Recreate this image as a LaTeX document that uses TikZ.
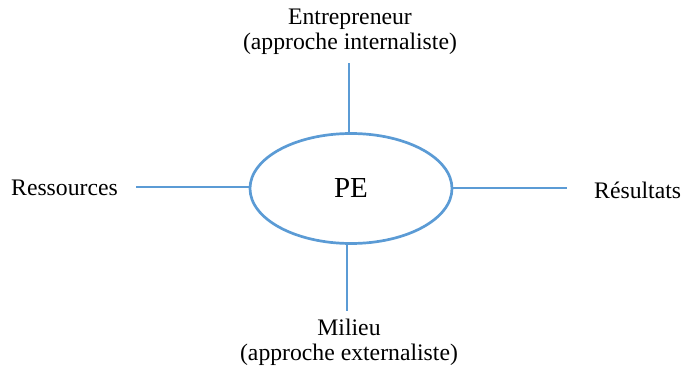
\documentclass[tikz,border=0pt]{standalone}
\usepackage{fontspec}
\setmainfont{Liberation Serif}
\usetikzlibrary{shapes.geometric}
\definecolor{lineblue}{RGB}{91,155,213}
\begin{document}
\begin{tikzpicture}[x=1pt,y=-1pt,
  lbl/.style={inner sep=0pt, align=center, font=\fontsize{23.7}{25}\selectfont},
  conn/.style={draw=lineblue, line width=2.5pt},
  pebox/.style={ellipse, draw=lineblue, line width=2.7pt, minimum width=202pt, minimum height=110pt, inner sep=0pt, font=\fontsize{29}{30}\selectfont}]
\useasboundingbox (0,0) rectangle (681,372);
\node[pebox] (pe) at (351,188.5) {PE};
\node[lbl] (top) at (350,32) {Entrepreneur\\(approche internaliste)};
\node[lbl] (bot) at (349,342) {Milieu\\(approche externaliste)};
\node[lbl, anchor=west] (res) at (11,188) {Ressources};
\node[lbl, anchor=west] (out) at (594,190) {Résultats};
\coordinate (tope) at (349,63);
\coordinate (bote) at (347,311);
\coordinate (lefte) at (136,187);
\coordinate (righte) at (567,188);
\draw[conn] (pe.north -| tope) -- (tope);
\draw[conn] (pe.south -| bote) -- (bote);
\draw[conn] (pe.west |- lefte) -- (lefte);
\draw[conn] (pe.east |- righte) -- (righte);
\end{tikzpicture}
\end{document}
